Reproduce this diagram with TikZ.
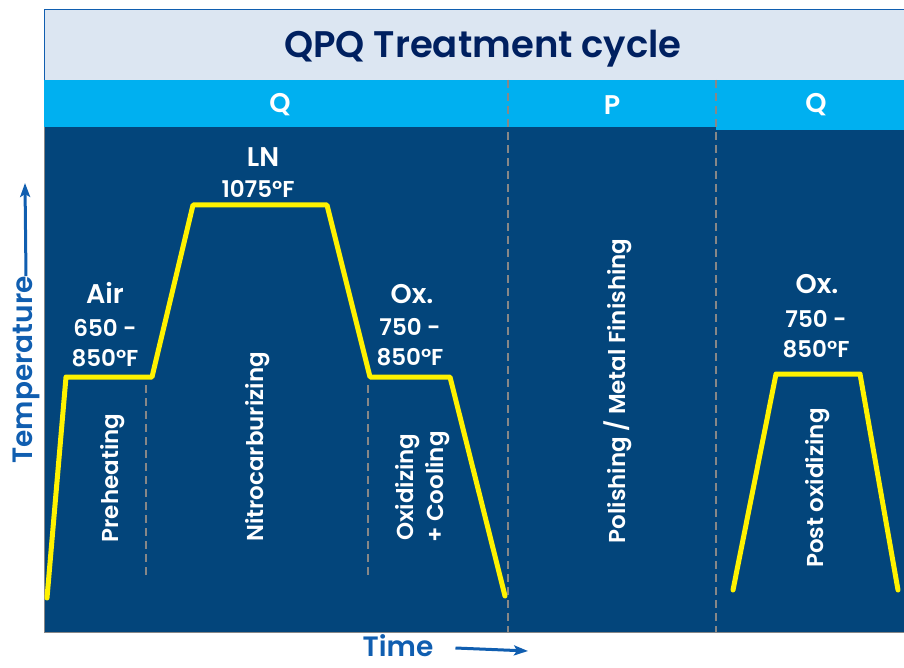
\documentclass[tikz,border=0pt]{standalone}
\usepackage{fontspec}
\setmainfont{Poppins}[BoldFont={Poppins SemiBold}]
\definecolor{navy}{RGB}{3,69,123}
\definecolor{bandblue}{RGB}{0,176,240}
\definecolor{titlebg}{RGB}{220,230,242}
\definecolor{titleink}{RGB}{0,32,96}
\definecolor{axisblue}{RGB}{16,94,176}
\definecolor{sepgray}{RGB}{135,135,135}
\tikzset{
  lbl/.style={text=white,font=\bfseries\fontsize{23}{30}\selectfont,align=center,inner sep=0pt},
  biglbl/.style={lbl,font=\bfseries\fontsize{27}{30}\selectfont},
  phase/.style={lbl,rotate=90},
  sep/.style={draw=sepgray,line width=1.3pt,dash pattern=on 8pt off 5pt},
  profile/.style={draw=yellow,line width=5pt,line join=round,line cap=round},
  axis/.style={draw=axisblue,line width=3pt,-{Stealth[length=14pt,width=10pt,inset=3pt]}},
  axislbl/.style={text=axisblue,font=\bfseries\fontsize{28}{30}\selectfont,inner sep=0pt}
}
\usetikzlibrary{arrows.meta}
\begin{document}
\begin{tikzpicture}[x=1pt,y=-1pt]
\useasboundingbox (0,0) rectangle (904,668);
\fill[titlebg] (44,10) rectangle (904,80);
\fill[bandblue] (44,80) rectangle (904,127);
\fill[bandblue] (716,127) rectangle (904,130);
\fill[navy] (44,127) rectangle (716,632);
\fill[navy] (716,130) rectangle (904,632);
\draw[axisblue,line width=1pt] (44,80) -- (44,10) -- (904,10);
\draw[sepgray,line width=1pt] (44,127) -- (44,632) -- (904,632);
\node[text=titleink,font=\bfseries\fontsize{37}{40}\selectfont] (title) at (483,49) {QPQ Treatment cycle};
\node[lbl,font=\bfseries\fontsize{27}{30}\selectfont] (q1) at (280,105) {Q};
\node[lbl,font=\bfseries\fontsize{27}{30}\selectfont] (p) at (612,105) {P};
\node[lbl,font=\bfseries\fontsize{27}{30}\selectfont] (q2) at (816,105) {Q};
\draw[sep] (508,80) -- (508,632);
\draw[sep] (716,80) -- (716,632);
\draw[sep] (146,385) -- (146,578);
\draw[sep] (368,385) -- (368,578);
% temperature profile
\coordinate (a0) at (47,598);
\coordinate (a1) at (66,377);
\coordinate (a2) at (152,377);
\coordinate (a3) at (193,205);
\coordinate (a4) at (327,205);
\coordinate (a5) at (370,377);
\coordinate (a6) at (450,377);
\coordinate (a7) at (505,596);
\draw[profile] (a0) -- (a1) -- (a2) -- (a3) -- (a4) -- (a5) -- (a6) -- (a7);
\coordinate (b0) at (733,590);
\coordinate (b1) at (776,374);
\coordinate (b2) at (860,374);
\coordinate (b3) at (898,590);
\draw[profile] (b0) -- (b1) -- (b2) -- (b3);
\node[biglbl] (ln) at (263,157) {LN};
\node[lbl] (lntemp) at (258,189) {1075°F};
\node[biglbl] (air) at (105,293) {Air};
\node[lbl] (airtemp) at (105,343) {650 -\\850°F};
\node[biglbl] (ox1) at (412,294) {Ox.};
\node[lbl] (ox1temp) at (410,342) {750 -\\850°F};
\node[biglbl] (ox2) at (817,284) {Ox.};
\node[lbl] (ox2temp) at (816,334) {750 -\\850°F};
\node[phase] (preheat) at (113,478) {Preheating};
\node[phase] (nitro) at (258,447) {Nitrocarburizing};
\node[phase] (oxcool) at (423,487) {Oxidizing\\+ Cooling};
\node[phase] (polish) at (618,391) {Polishing / Metal Finishing};
\node[phase] (postox) at (818,488) {Post oxidizing};
% axes
\node[axislbl,rotate=90] (temp) at (26,370) {Temperature};
\coordinate (temptip) at (25,183);
\draw[axis] (temp.east) -- (temptip);
\node[axislbl] (time) at (398,646) {Time};
\coordinate (timetip) at (528,651);
\draw[axis] ([xshift=22pt,yshift=-2pt]time.east) -- (timetip);
\end{tikzpicture}
\end{document}
